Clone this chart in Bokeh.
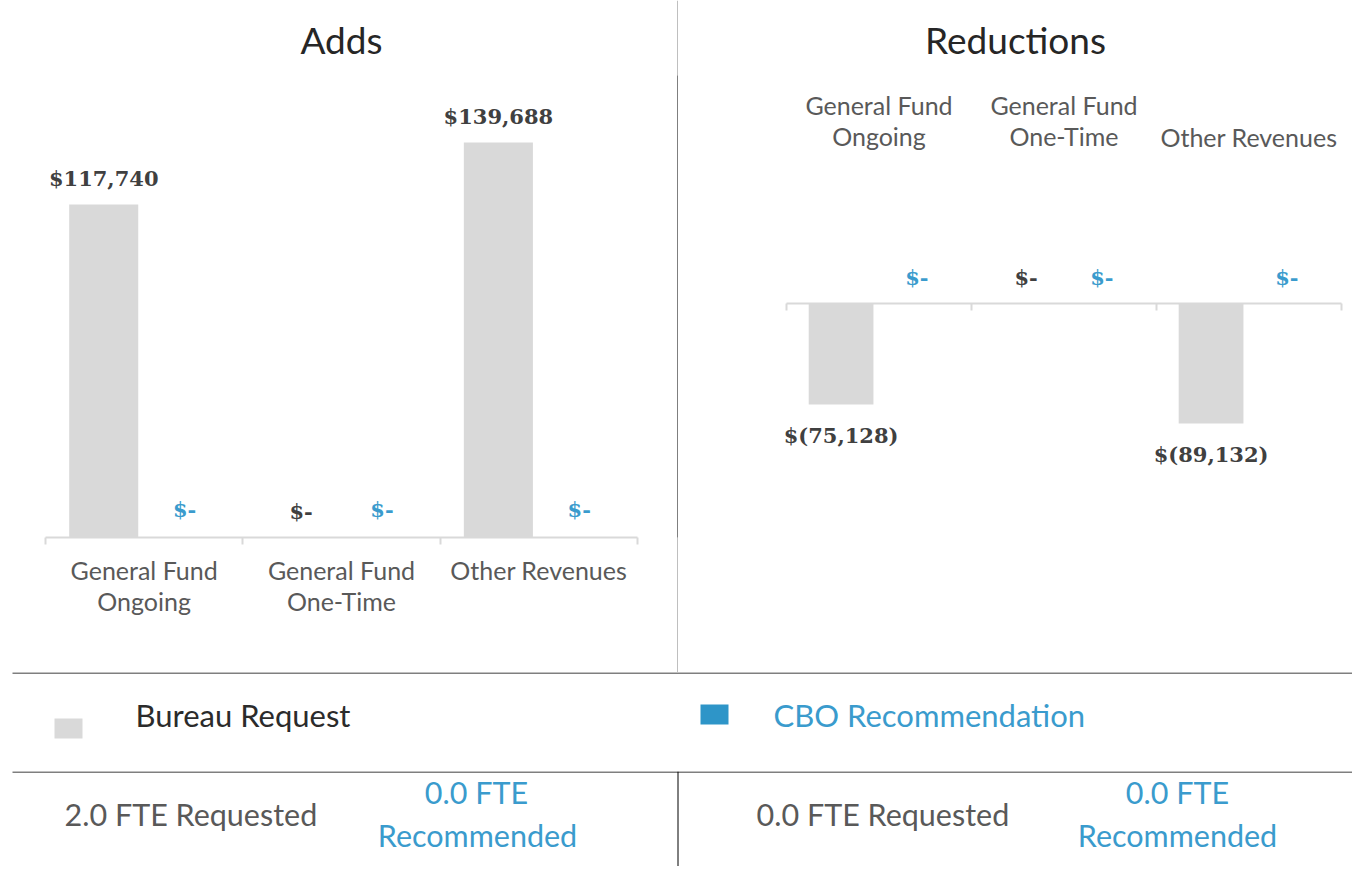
import numpy as np
from bokeh.plotting import figure
from bokeh.models import Range1d, FixedTicker, ColumnDataSource
from bokeh.layouts import column, row
from bokeh.embed import file_html
from bokeh.resources import INLINE
from bokeh.core.properties import value

# ---------------- data ----------------
categories = ["General Fund Ongoing", "General Fund One-Time", "Other Revenues"]
axis_labels = ["General Fund\nOngoing", "General Fund\nOne-Time", "Other Revenues"]
series = ["Bureau Request", "CBO Recommendation"]
adds_bureau = [117740, 0, 139688]
adds_cbo = [0, 0, 0]
red_bureau = [-75128, 0, -89132]
red_cbo = [0, 0, 0]
panel_titles = ["Adds", "Reductions"]
fte_requested = [2.0, 0.0]
fte_recommended = [0.0, 0.0]

# ---------------- style ----------------
GRAY = "#d9d9d9"
BLUE = "#2e95c8"
BLUE_TXT = "#3a9bcd"
DARK = "#404040"
LABEL = "#595959"
SANS = "Lato"
SERIF = "DejaVu Serif"
BW = 0.35      # bar width (category units)
OFF = 0.205    # dodge offset
VAL_SIZE = "21px"


def money(v):
    if v == 0:
        return "$-"
    if v < 0:
        return "$({:,})".format(-v)
    return "${:,}".format(v)


idx = np.arange(len(categories))
centers = idx + 0.5
edges = np.arange(len(categories) + 1)


def clean(p):
    p.xgrid.visible = False
    p.ygrid.visible = False
    p.outline_line_color = None
    p.background_fill_color = "white"
    p.border_fill_color = "white"


def style_title(p):
    p.title.text_font = SANS
    p.title.text_font_size = "37px"
    p.title.text_font_style = "normal"
    p.title.text_color = "#262626"
    p.title.align = "center"
    p.title.standoff = 27


TOP_H = 672
BORDER_TOP = 75
BORDER_BOTTOM = 135

# ---------------- Adds (left) ----------------
pl = figure(width=677, height=TOP_H, x_range=Range1d(0, 3), y_range=Range1d(0, 163360),
            output_backend="svg", toolbar_location=None, y_axis_location=None,
            min_border_left=45, min_border_right=40, min_border_top=BORDER_TOP,
            min_border_bottom=BORDER_BOTTOM, title=panel_titles[0])
clean(pl)
style_title(pl)

src_lb = ColumnDataSource(dict(x=centers - OFF, top=adds_bureau, lab=[money(v) for v in adds_bureau]))
src_lc = ColumnDataSource(dict(x=centers + OFF, top=adds_cbo, lab=[money(v) for v in adds_cbo]))
pl.vbar(x="x", top="top", bottom=0, width=BW, fill_color=GRAY, line_color=None, source=src_lb)
pl.vbar(x="x", top="top", bottom=0, width=BW, fill_color=BLUE, line_color=None, source=src_lc)
pl.text(x="x", y="top", text="lab", source=src_lb, text_font=value(SERIF), text_font_style="bold",
        text_font_size=VAL_SIZE, text_color=DARK, text_align="center", text_baseline="middle", y_offset=-26)
pl.text(x="x", y="top", text="lab", source=src_lc, text_font=value(SERIF), text_font_style="bold",
        text_font_size=VAL_SIZE, text_color=BLUE_TXT, text_align="center", text_baseline="middle", y_offset=-28)

ax = pl.xaxis[0]
ax.ticker = FixedTicker(ticks=list(centers), minor_ticks=list(edges))
ax.major_label_overrides = {float(c): lab for c, lab in zip(centers, axis_labels)}
ax.axis_line_color = GRAY
ax.axis_line_width = 2
ax.major_tick_line_color = None
ax.major_tick_out = 7
ax.major_tick_in = 0
ax.minor_tick_line_color = GRAY
ax.minor_tick_line_width = 2
ax.minor_tick_out = 7
ax.minor_tick_in = 0
ax.major_label_text_font = SANS
ax.major_label_text_font_size = "25px"
ax.major_label_text_color = LABEL
ax.major_label_text_line_height = 1.05
ax.major_label_standoff = 10

# ---------------- separator ----------------
sep = figure(width=1, height=TOP_H, x_range=Range1d(0, 1), y_range=Range1d(0, 1),
             output_backend="svg", toolbar_location=None, x_axis_location=None, y_axis_location=None,
             min_border=0)
sep.xgrid.visible = False
sep.ygrid.visible = False
sep.outline_line_color = None
sep.background_fill_color = "black"
sep.border_fill_color = "black"

# ---------------- Reductions (right) ----------------
UPP = 743.5  # data units per pixel in the right chart
pr = figure(width=674, height=TOP_H, x_range=Range1d(-0.5838, 3.0595), y_range=Range1d(-173980, 169520),
            output_backend="svg", toolbar_location=None, y_axis_location=None, x_axis_location=None,
            min_border_left=0, min_border_right=0, min_border_top=BORDER_TOP,
            min_border_bottom=BORDER_BOTTOM, title=panel_titles[1])
clean(pr)
style_title(pr)

# zero line with category-boundary ticks
pr.segment(x0=[edges[0]], y0=[0], x1=[edges[-1]], y1=[0], line_color=GRAY, line_width=2)
pr.segment(x0=edges, y0=np.zeros(len(edges)), x1=edges, y1=np.full(len(edges), -7 * UPP),
           line_color=GRAY, line_width=2)

# category labels sit above the chart
src_cat = ColumnDataSource(dict(x=centers, y=np.zeros(len(centers)), lab=axis_labels))
pr.text(x="x", y="y", text="lab", source=src_cat, text_font=value(SANS), text_font_size="25px",
        text_color=LABEL, text_align="center", text_baseline="bottom", text_line_height=1.04,
        y_offset=-152)

src_rb = ColumnDataSource(dict(x=centers - OFF, top=red_bureau, lab=[money(v) for v in red_bureau]))
src_rc = ColumnDataSource(dict(x=centers + OFF, top=red_cbo, lab=[money(v) for v in red_cbo]))
pr.vbar(x="x", top="top", bottom=0, width=BW, fill_color=GRAY, line_color=None, source=src_rb)
pr.vbar(x="x", top="top", bottom=0, width=BW, fill_color=BLUE, line_color=None, source=src_rc)

neg = [i for i, v in enumerate(red_bureau) if v < 0]
zer = [i for i, v in enumerate(red_bureau) if v >= 0]
src_rb_neg = ColumnDataSource(dict(x=(centers - OFF)[neg], y=[red_bureau[i] for i in neg],
                                   lab=[money(red_bureau[i]) for i in neg]))
src_rb_zer = ColumnDataSource(dict(x=(centers - OFF)[zer], y=[red_bureau[i] for i in zer],
                                   lab=[money(red_bureau[i]) for i in zer]))
pr.text(x="x", y="y", text="lab", source=src_rb_neg, text_font=value(SERIF), text_font_style="bold",
        text_font_size=VAL_SIZE, text_color=DARK, text_align="center", text_baseline="middle", y_offset=31)
pr.text(x="x", y="y", text="lab", source=src_rb_zer, text_font=value(SERIF), text_font_style="bold",
        text_font_size=VAL_SIZE, text_color=DARK, text_align="center", text_baseline="middle", y_offset=-26)
pr.text(x="x", y="top", text="lab", source=src_rc, text_font=value(SERIF), text_font_style="bold",
        text_font_size=VAL_SIZE, text_color=BLUE_TXT, text_align="center", text_baseline="middle", y_offset=-26)

# ---------------- legend band ----------------
W = 1352
lg = figure(width=W, height=99, x_range=Range1d(0, W), y_range=Range1d(99, 0),
            output_backend="svg", toolbar_location=None, x_axis_location=None, y_axis_location=None,
            min_border=0)
clean(lg)
lg.segment(x0=[12], y0=[0.5], x1=[W], y1=[0.5], line_color="black", line_width=1.2)
lg.rect(x=[68, 714], y=[56, 42], width=28, height=20, fill_color=[GRAY, BLUE], line_color=None)
lg.text(x=[135, 773], y=[42, 42], text=series, text_font=value(SANS), text_font_size="31px",
        text_color=["#2b2b2b", BLUE_TXT], text_align="left", text_baseline="middle")

# ---------------- FTE band ----------------
FH = 95
ft = figure(width=W, height=FH, x_range=Range1d(0, W), y_range=Range1d(FH, 0),
            output_backend="svg", toolbar_location=None, x_axis_location=None, y_axis_location=None,
            min_border=0)
clean(ft)
ft.segment(x0=[12], y0=[0.5], x1=[W], y1=[0.5], line_color="black", line_width=1.2)
ft.segment(x0=[677.5], y0=[0], x1=[677.5], y1=[FH], line_color="black", line_width=1)
ft.text(x=[64, 756], y=[42, 42], text=["{:.1f} FTE Requested".format(v) for v in fte_requested],
        text_font=value(SANS), text_font_size="30.5px", text_color=LABEL,
        text_align="left", text_baseline="middle")
ft.text(x=[476, 1177], y=[20, 20], text=["{:.1f} FTE".format(v) for v in fte_recommended],
        text_font=value(SANS), text_font_size="30.5px", text_color=BLUE_TXT,
        text_align="center", text_baseline="middle")
ft.text(x=[477, 1177], y=[63, 63], text=["Recommended", "Recommended"],
        text_font=value(SANS), text_font_size="30.5px", text_color=BLUE_TXT,
        text_align="center", text_baseline="middle")

layout = column(row(pl, sep, pr), lg, ft)
open("out.html", "w").write(file_html(layout, INLINE))
